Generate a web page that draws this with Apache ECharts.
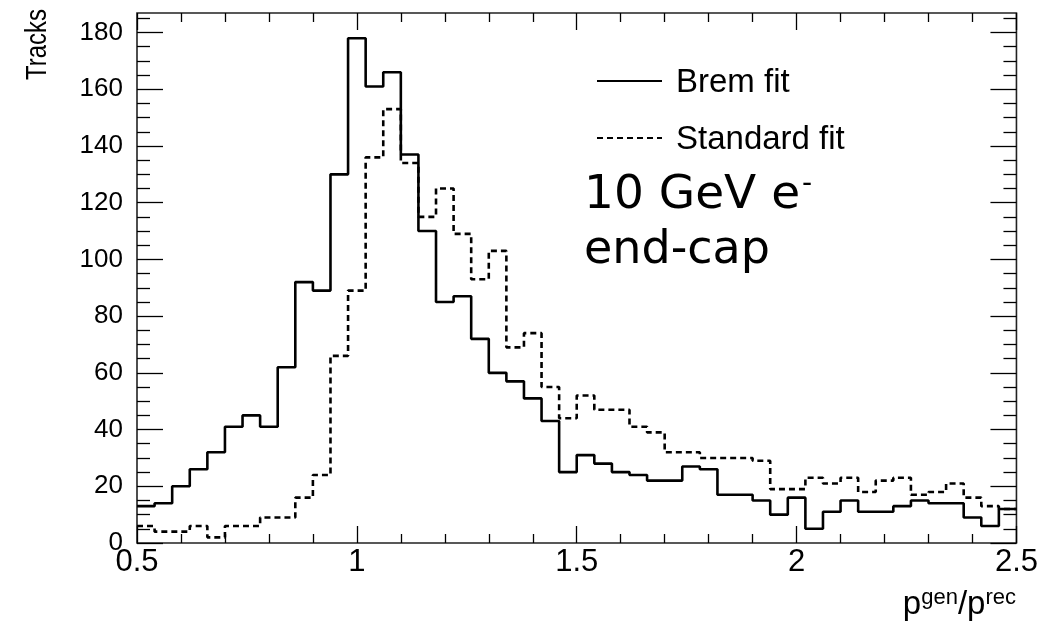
<!DOCTYPE html>
<html>
<head>
<meta charset="utf-8">
<script src="https://cdn.jsdelivr.net/npm/echarts@6/dist/echarts.min.js"></script>
<style>
html,body{margin:0;padding:0;background:#fff;}
#chart{width:1041px;height:626px;}
</style>
</head>
<body>
<div id="chart"></div>
<script>
// Bin edges of the histogram (p_gen / p_rec), 50 bins of width 0.04
const binEdges = [0.50,0.54,0.58,0.62,0.66,0.70,0.74,0.78,0.82,0.86,
  0.90,0.94,0.98,1.02,1.06,1.10,1.14,1.18,1.22,1.26,
  1.30,1.34,1.38,1.42,1.46,1.50,1.54,1.58,1.62,1.66,
  1.70,1.74,1.78,1.82,1.86,1.90,1.94,1.98,2.02,2.06,
  2.10,2.14,2.18,2.22,2.26,2.30,2.34,2.38,2.42,2.46,2.50];

// Track counts per bin
const bremFit = [13,14,20,26,32,41,45,41,62,92,
  89,130,178,161,166,137,110,85,87,72,
  60,57,51,43,25,31,28,25,24,22,
  22,27,26,17,17,15,10,16,5,11,
  15,11,11,13,15,14,14,9,6,12];
const standardFit = [6,4,4,6,2,6,6,9,9,16,
  24,66,89,136,153,134,115,125,109,93,
  103,69,74,55,44,52,47,47,41,39,
  32,32,30,30,30,29,19,19,23,21,
  23,18,22,23,17,18,21,16,13,12];

// Axis ticks and labels
const xMajorTicks = [0.5,1,1.5,2,2.5];
const xTickLabels = ['0.5','1','1.5','2','2.5'];
const xMinorTicks = [0.6,0.7,0.8,0.9,1.1,1.2,1.3,1.4,1.6,1.7,1.8,1.9,2.1,2.2,2.3,2.4];
const yMajorTicks = [0,20,40,60,80,100,120,140,160,180];
const yTickLabels = ['0','20','40','60','80','100','120','140','160','180'];
const yMinorTicks = [5,10,15,25,30,35,45,50,55,65,70,75,85,90,95,105,110,115,125,130,135,145,150,155,165,170,175,185];
const X_MIN = 0.5, X_MAX = 2.5, Y_MIN = 0, Y_MAX = 186.9;

function histData(vals){
  return binEdges.map((x,i)=>[x, vals[Math.min(i, vals.length-1)]]);
}

const FONT = 'Liberation Sans, Arial, Helvetica, sans-serif';
const VFONT = 'DejaVu Sans, Verdana, sans-serif';
const tickStyle = {color:'#000', width:1.3};

function xAx(pos, ticks, len, labels){
  return {
    type:'value', position:pos, min:X_MIN, max:X_MAX, interval:0.5,
    axisLine:{show:false, onZero:false},
    axisTick:{show:true, inside:true, length:len, lineStyle:tickStyle, customValues:ticks},
    axisLabel: labels ? {show:true, customValues:xMajorTicks, fontSize:31, fontFamily:FONT, color:'#000', margin:4,
      formatter:(v)=>{const i=xMajorTicks.findIndex(t=>Math.abs(t-v)<1e-6); return i>=0?xTickLabels[i]:'';}} : {show:false},
    splitLine:{show:false}, minorTick:{show:false}
  };
}
function yAx(pos, ticks, len, labels){
  return {
    type:'value', position:pos, min:Y_MIN, max:Y_MAX, interval:20,
    axisLine:{show:false, onZero:false},
    axisTick:{show:true, inside:true, length:len, lineStyle:tickStyle, customValues:ticks},
    axisLabel: labels ? {show:true, customValues:yMajorTicks, fontSize:26, fontFamily:FONT, color:'#000', margin:14,
      formatter:(v)=>{const i=yMajorTicks.indexOf(v); return i>=0?yTickLabels[i]:'';}} : {show:false},
    splitLine:{show:false}, minorTick:{show:false}
  };
}

const chart = echarts.init(document.getElementById('chart'), null, {renderer:'canvas'});
chart.setOption({
  animation:false,
  backgroundColor:'#fff',
  grid:{left:137, right:23, top:13, bottom:83, show:true, borderColor:'#222', borderWidth:1.6, backgroundColor:'transparent'},
  xAxis:[
    xAx('bottom', xMajorTicks, 17, true),
    xAx('bottom', xMinorTicks, 9, false),
    xAx('top', xMajorTicks, 17, false),
    xAx('top', xMinorTicks, 9, false)
  ],
  yAxis:[
    yAx('left', yMajorTicks, 26, true),
    yAx('left', yMinorTicks, 13, false),
    yAx('right', yMajorTicks, 26, false),
    yAx('right', yMinorTicks, 13, false)
  ],
  series:[
    {name:'Brem fit', type:'line', step:'end', xAxisIndex:0, yAxisIndex:0, symbol:'none',
      lineStyle:{color:'#000', width:2.6}, data:histData(bremFit)},
    {name:'Standard fit', type:'line', step:'end', xAxisIndex:0, yAxisIndex:0, symbol:'none',
      lineStyle:{color:'#000', width:2.6, type:[6,4]}, data:histData(standardFit)}
  ],
  graphic:[
    {type:'line', shape:{x1:597,y1:81,x2:662,y2:81}, style:{stroke:'#000', lineWidth:1.8}},
    {type:'text', x:676, y:83, style:{text:'Brem fit', fontSize:33, fontFamily:FONT, fill:'#000', align:'left', verticalAlign:'middle'}},
    {type:'line', shape:{x1:597,y1:138,x2:662,y2:138}, style:{stroke:'#000', lineWidth:1.8, lineDash:[6,4]}},
    {type:'text', x:676, y:140, style:{text:'Standard fit', fontSize:33, fontFamily:FONT, fill:'#000', align:'left', verticalAlign:'middle'}},
    {type:'text', x:584, y:196, style:{text:'{a|10 GeV e}{s|-}', fill:'#000', align:'left', verticalAlign:'middle',
      rich:{a:{fontSize:47, fontFamily:VFONT, fill:'#000'},
            s:{fontSize:28, fontFamily:VFONT, fill:'#000', verticalAlign:'top', padding:[0,0,22,2]}}}},
    {type:'text', x:584, y:251, style:{text:'end-cap', fontSize:46, fontFamily:VFONT, fill:'#000', align:'left', verticalAlign:'middle'}},
    {type:'text', x:38, y:9, rotation:Math.PI/2, scaleY:1.2, style:{text:'Tracks', fontSize:24, fontFamily:FONT, fill:'#000', align:'right', verticalAlign:'middle'}},
    {type:'text', x:1016, y:604, style:{text:'{p|p}{s|gen}{p|/p}{s|rec}', align:'right', verticalAlign:'middle',
      rich:{p:{fontSize:33, fontFamily:FONT, fill:'#000', verticalAlign:'bottom'},
            s:{fontSize:22, fontFamily:FONT, fill:'#000', verticalAlign:'top', padding:[0,0,13,0]}}}}
  ]
});
</script>
</body>
</html>
